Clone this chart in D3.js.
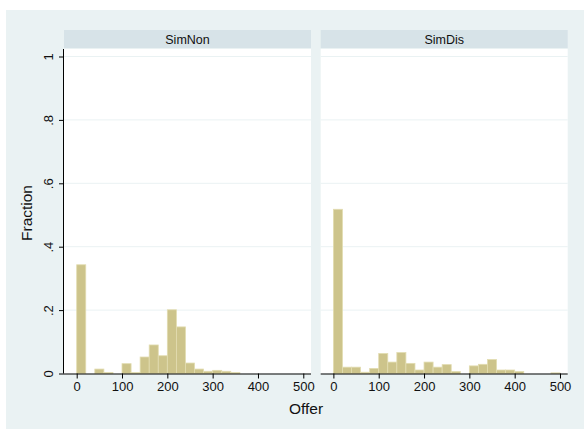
<!DOCTYPE html>
<html>
<head>
<meta charset="utf-8">
<script src="https://cdn.jsdelivr.net/npm/d3@7"></script>
<style>
  html, body { margin: 0; padding: 0; background: #ffffff; }
  svg { display: block; font-family: "Liberation Sans", Arial, Helvetica, sans-serif; }
</style>
</head>
<body>
<svg id="chart" width="584" height="429"></svg>
<script>
// Histogram bins of width 20, starting at each value below
const binStarts = [0, 20, 40, 60, 80, 100, 120, 140, 160, 180, 200, 220, 240, 260, 280, 300, 320, 340, 360, 380, 400, 420, 440, 460, 480];
const binWidth = 20;

// Fraction of offers per bin, one array per treatment
const simNon = [0.343, 0, 0.014, 0.003, 0, 0.031, 0.003, 0.052, 0.090, 0.056, 0.201, 0.147, 0.033, 0.014, 0.007, 0.010, 0.007, 0.003, 0, 0, 0, 0, 0, 0, 0];
const simDis = [0.518, 0.020, 0.020, 0.004, 0.016, 0.063, 0.036, 0.066, 0.032, 0.011, 0.036, 0.020, 0.028, 0.006, 0, 0.024, 0.029, 0.044, 0.011, 0.011, 0.006, 0, 0, 0, 0.002];

const panelNames = ["SimNon", "SimDis"];
const panelValues = [simNon, simDis];

const xTicks = [0, 100, 200, 300, 400, 500];
const yTicks = [0, 0.2, 0.4, 0.6, 0.8, 1];
const yTickLabels = ["0", ".2", ".4", ".6", ".8", "1"];

const svg = d3.select("#chart");

// Graph region background
svg.append("rect")
  .attr("x", 6).attr("y", 10).attr("width", 578).attr("height", 419)
  .attr("fill", "#eaf2f3");

const plotTop = 49, plotBottom = 373.5;
const panelLefts = [64, 320.7];
const panelWidth = 247;
const headerTop = 30;

const y = d3.scaleLinear().domain([0, 1]).range([plotBottom, plotTop + 7.5]);

panelNames.forEach((name, i) => {
  const left = panelLefts[i];
  const x = d3.scaleLinear().domain([-28, 517]).range([left, left + panelWidth]);
  const g = svg.append("g");

  // Strip header
  g.append("rect")
    .attr("x", left).attr("y", headerTop)
    .attr("width", panelWidth).attr("height", plotTop - headerTop - 1)
    .attr("fill", "#d7e3e8");
  g.append("text")
    .attr("x", left + panelWidth / 2).attr("y", (headerTop + plotTop) / 2 + 4)
    .attr("text-anchor", "middle")
    .attr("font-size", 12.5).attr("fill", "#111")
    .text(name);

  // Plot region
  g.append("rect")
    .attr("x", left).attr("y", plotTop)
    .attr("width", panelWidth).attr("height", plotBottom - plotTop)
    .attr("fill", "#ffffff");

  // Horizontal gridlines
  g.selectAll("line.grid")
    .data(yTicks.filter(t => t > 0))
    .join("line")
    .attr("class", "grid")
    .attr("x1", left).attr("x2", left + panelWidth)
    .attr("y1", d => y(d)).attr("y2", d => y(d))
    .attr("stroke", "#eaf2f3").attr("stroke-width", 1);

  // Bars
  g.selectAll("rect.bar")
    .data(binStarts.map((s, k) => ({ s, v: panelValues[i][k] })).filter(d => d.v > 0))
    .join("rect")
    .attr("class", "bar")
    .attr("x", d => x(d.s))
    .attr("width", d => x(d.s + binWidth) - x(d.s))
    .attr("y", d => y(d.v))
    .attr("height", d => y(0) - y(d.v))
    .attr("fill", "#cdc48b")
    .attr("stroke", "#e2dcb0")
    .attr("stroke-width", 0.8);

  // X axis
  const xAxis = d3.axisBottom(x).tickValues(xTicks).tickSize(5).tickPadding(3);
  const xg = g.append("g")
    .attr("transform", `translate(0,${plotBottom})`)
    .call(xAxis);
  xg.select(".domain").attr("stroke", "#000").attr("d", `M${left},0.5H${left + panelWidth}`);
  xg.selectAll(".tick line").attr("stroke", "#000");
  xg.selectAll(".tick text")
    .attr("font-size", 13).attr("fill", "#111")
    .attr("font-family", "Liberation Sans, Arial, sans-serif");

  // Y axis on the first panel only
  if (i === 0) {
    const yAxis = d3.axisLeft(y).tickValues(yTicks)
      .tickFormat((d, k) => yTickLabels[k]).tickSize(5).tickPadding(5);
    const yg = g.append("g")
      .attr("transform", `translate(${left},0)`)
      .call(yAxis);
    yg.select(".domain").attr("stroke", "#000").attr("d", `M-0.5,${plotTop}V${plotBottom}`);
    yg.selectAll(".tick line").attr("stroke", "#000");
    yg.selectAll(".tick text")
      .attr("font-size", 13).attr("fill", "#111")
      .attr("font-family", "Liberation Sans, Arial, sans-serif")
      .attr("text-anchor", "middle")
      .attr("dy", 0)
      .attr("transform", "translate(-11,0) rotate(-90)")
      .attr("x", 0).attr("y", 0);
  }
});

// Axis titles
svg.append("text")
  .attr("x", 306).attr("y", 414)
  .attr("text-anchor", "middle")
  .attr("font-size", 15.5).attr("fill", "#111")
  .text("Offer");

svg.append("text")
  .attr("transform", "translate(32,213) rotate(-90)")
  .attr("text-anchor", "middle")
  .attr("font-size", 15.5).attr("fill", "#111")
  .text("Fraction");
</script>
</body>
</html>
